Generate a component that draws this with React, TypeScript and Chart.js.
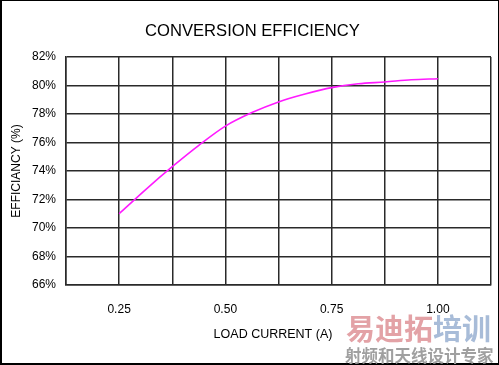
import React, { useEffect, useRef } from "react";
import { Chart, registerables } from "chart.js";

Chart.register(...registerables);

const loadCurrent = [0.25, 0.3125, 0.375, 0.4375, 0.5, 0.5625, 0.625, 0.6875, 0.75, 0.8125, 0.875, 0.9375, 1.0];
const efficiency = [71.0, 72.7, 74.3, 75.8, 77.15, 78.1, 78.85, 79.4, 79.85, 80.12, 80.25, 80.4, 80.48];
const xTickLabels = [0.25, 0.5, 0.75, 1.0];
const xAxisTitle = "LOAD CURRENT (A)";

const FONT = "'Liberation Sans', Arial, Helvetica, sans-serif";

const xTitlePlugin = {
  id: "xTitlePlugin",
  afterDraw(chart: any) {
    const { ctx, chartArea } = chart;
    ctx.save();
    ctx.font = `12.5px ${FONT}`;
    ctx.fillStyle = "#000";
    ctx.textAlign = "center";
    ctx.textBaseline = "middle";
    ctx.fillText(xAxisTitle, (chartArea.left + chartArea.right) / 2 - 5.5, chartArea.bottom + 50);
    ctx.restore();
  },
};

export default function App() {
  const ref = useRef<HTMLCanvasElement | null>(null);

  useEffect(() => {
    document.body.style.margin = "0";
    const canvas = ref.current;
    if (!canvas) return;
    const chart = new Chart(canvas, {
      type: "line",
      data: {
        datasets: [
          {
            data: loadCurrent.map((x, i) => ({ x, y: efficiency[i] })),
            borderColor: "#ff1aff",
            borderWidth: 1.6,
            pointRadius: 0,
            cubicInterpolationMode: "monotone",
            fill: false,
          },
        ],
      },
      plugins: [xTitlePlugin],
      options: {
        responsive: false,
        animation: false,
        layout: { padding: { left: 14, right: 8, top: 0, bottom: 0 } },
        plugins: {
          legend: { display: false },
          tooltip: { enabled: false },
          title: {
            display: true,
            text: "CONVERSION EFFICIENCY",
            color: "#000",
            font: { family: FONT, size: 16.6, weight: "normal" },
            padding: { top: 21, bottom: 16.1 },
          },
        },
        scales: {
          x: {
            type: "linear",
            min: 0.125,
            max: 1.125,
            afterFit: (s: any) => {
              s.height = 80;
            },
            ticks: {
              stepSize: 0.125,
              padding: 7,
              color: "#000",
              font: { family: FONT, size: 12 },
              maxRotation: 0,
              autoSkip: false,
              callback: (v: any) => {
                const n = Number(v);
                const hit = xTickLabels.find((t) => Math.abs(t - n) < 1e-6);
                return hit !== undefined ? hit.toFixed(2) : "";
              },
            },
            grid: {
              color: "#2a2a2a",
              lineWidth: 1.5,
              drawTicks: true,
              tickLength: 10,
              tickColor: "rgba(0,0,0,0)",
            },
            border: { color: "#2a2a2a", width: 1.5 },
            title: { display: false },
          },
          y: {
            min: 66,
            max: 82,
            afterFit: (s: any) => {
              s.width = 52;
            },
            ticks: {
              stepSize: 2,
              padding: 10,
              color: "#000",
              font: { family: FONT, size: 12 },
              callback: (v: any) => `${v}%`,
            },
            grid: { color: "#2a2a2a", lineWidth: 1.5, drawTicks: false, tickLength: 0 },
            border: { color: "#2a2a2a", width: 1.5 },
            title: {
              display: true,
              text: "EFFICIANCY (%)",
              color: "#000",
              font: { family: FONT, size: 12 },
              padding: { top: -4.7, bottom: 0 },
            },
          },
        },
      },
    });
    return () => chart.destroy();
  }, []);

  return (
    <div style={{ position: "relative", width: 499, height: 365, overflow: "hidden", background: "#fff" }}>
      <canvas ref={ref} width={499} height={365} style={{ position: "absolute", left: 0, top: 0 }} />
      <div
        style={{
          position: "absolute",
          left: 0,
          top: 0,
          width: 496,
          height: 362,
          borderTop: "1px solid #000",
          borderLeft: "2px solid #000",
          borderRight: "1px solid #000",
          borderBottom: "2px solid #000",
          pointerEvents: "none",
        }}
      />
      <div
        style={{
          position: "absolute",
          left: 346,
          top: 311,
          fontFamily: "'Noto Sans CJK SC', sans-serif",
          fontWeight: 700,
          fontSize: 29,
          lineHeight: "32px",
          letterSpacing: 0,
          whiteSpace: "nowrap",
        }}
      >
        <span style={{ color: "#e3a2a6" }}>易迪拓</span>
        <span style={{ color: "#a8bcd8" }}>培训</span>
      </div>
      <div
        style={{
          position: "absolute",
          left: 345,
          top: 346,
          fontFamily: "'Noto Sans CJK SC', sans-serif",
          fontWeight: 700,
          fontSize: 16.5,
          lineHeight: "18px",
          color: "#a0a0a0",
          whiteSpace: "nowrap",
        }}
      >
        射频和天线设计专家
      </div>
    </div>
  );
}
